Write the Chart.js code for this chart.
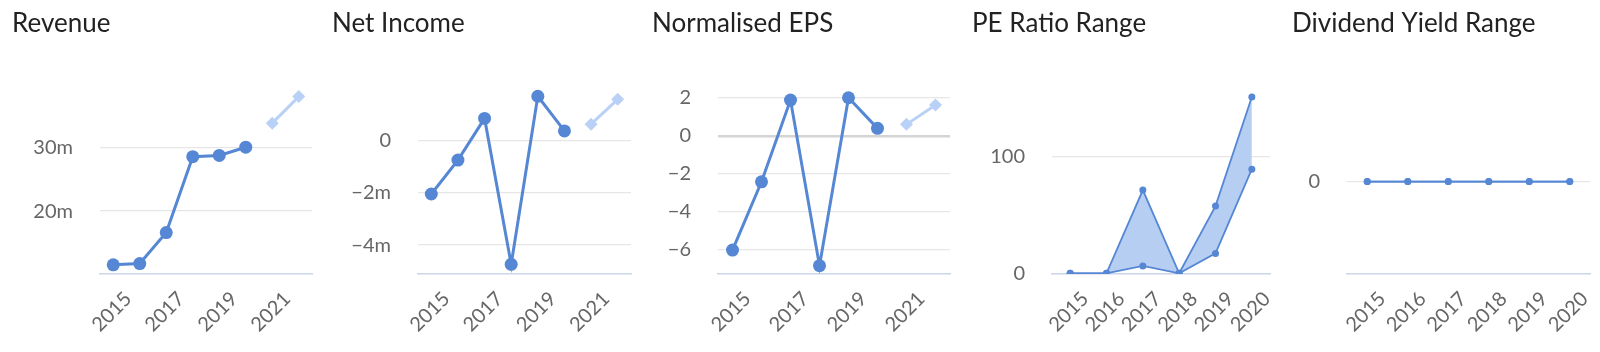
<!DOCTYPE html>
<html>
<head>
<meta charset="utf-8">
<script src="https://cdn.jsdelivr.net/npm/chart.js@4.4.1/dist/chart.umd.min.js"></script>
<style>
  body { margin: 0; background: #fff; }
  .row { display: flex; width: 1600px; height: 352px; }
  canvas { display: block; }
</style>
</head>
<body>
<div class="row">
  <canvas id="revenueChart" width="320" height="352"></canvas>
  <canvas id="incomeChart" width="320" height="352"></canvas>
  <canvas id="epsChart" width="320" height="352"></canvas>
  <canvas id="peChart" width="320" height="352"></canvas>
  <canvas id="divChart" width="320" height="352"></canvas>
</div>
<script>
// data (millions for revenue / net income)
var years = ['2015', '2016', '2017', '2018', '2019', '2020', '2021', '2022'];
var revenue = [11.5, 11.7, 16.6, 28.6, 28.8, 30.1, null, null];
var revenueForecast = [null, null, null, null, null, null, 33.9, 38.1];
var netIncome = [-2.04, -0.74, 0.86, -4.74, 1.71, 0.38, null, null];
var netIncomeForecast = [null, null, null, null, null, null, 0.64, 1.59];
var eps = [-6.0, -2.41, 1.89, -6.82, 2.01, 0.40, null, null];
var epsForecast = [null, null, null, null, null, null, 0.61, 1.63];

var rangeYears = ['2015', '2016', '2017', '2018', '2019', '2020'];
var peHigh = [0, 0, 71.4, 0, 57.7, 151.3];
var peLow = [0, 0, 6.3, 0, 17.1, 89.4];
var divHigh = [0, 0, 0, 0, 0, 0];
var divLow = [0, 0, 0, 0, 0, 0];

var BLUE = '#5587d4';
var LIGHT = '#b9d1f6';
var FILL = '#b7cef3';
var FONT = 'Lato';

function fmtM(v) {
  var s = Math.abs(v) + 'm';
  if (v === 0) return '0';
  return v < 0 ? '\u2212' + s : s;
}
function fmtN(v) {
  return v < 0 ? '\u2212' + Math.abs(v) : String(v);
}

function makeChart(id, opts) {
  var everyOther = opts.everyOther;
  new Chart(document.getElementById(id), {
    type: 'line',
    data: { labels: opts.labels, datasets: opts.datasets },
    options: {
      responsive: false,
      animation: false,
      layout: { padding: { left: 12, right: opts.right, top: 0, bottom: 0 } },
      plugins: {
        legend: { display: false },
        tooltip: { enabled: false },
        filler: { drawTime: 'beforeDatasetsDraw' },
        title: {
          display: true,
          text: opts.title,
          align: 'start',
          color: '#222',
          font: { family: FONT, size: 26, weight: 'normal' },
          padding: { top: 8, bottom: 50 }
        }
      },
      scales: {
        x: {
          type: 'category',
          offset: true,
          grid: { display: false, drawTicks: false },
          border: { display: true, color: '#ccd6eb', width: 1.5 },
          afterFit: function (scale) {
            scale.height = 78;
            // labels may overflow, keep the plot width fixed
            scale.paddingLeft = 0;
            scale.paddingRight = 0;
          },
          ticks: {
            autoSkip: false,
            minRotation: 45,
            maxRotation: 45,
            padding: 13,
            labelOffset: 15,
            color: '#666',
            font: { family: FONT, size: 20 },
            callback: function (val, i) {
              if (everyOther && i % 2 !== 0) return '';
              return this.getLabelForValue(val);
            }
          }
        },
        y: {
          min: opts.min,
          max: opts.max,
          afterBuildTicks: function (scale) {
            scale.ticks = opts.ticks.map(function (v) { return { value: v }; });
          },
          afterFit: function (scale) { scale.width = opts.axisWidth; },
          border: { display: false },
          grid: {
            drawTicks: false,
            color: function (ctx) {
              if (opts.zeroLine && ctx.tick && ctx.tick.value === 0) return '#d4d4d4';
              return '#e6e6e6';
            },
            lineWidth: function (ctx) {
              if (opts.zeroLine && ctx.tick && ctx.tick.value === 0) return 2.5;
              return 1.2;
            }
          },
          ticks: {
            padding: 27,
            color: '#666',
            font: { family: FONT, size: 20 },
            callback: opts.format
          }
        }
      }
    }
  });
}

function actualSet(values) {
  return {
    data: values,
    borderColor: BLUE,
    backgroundColor: BLUE,
    borderWidth: 3,
    pointRadius: 6.5,
    pointBorderWidth: 0,
    pointBackgroundColor: BLUE,
    spanGaps: false
  };
}
function forecastSet(values) {
  return {
    data: values,
    borderColor: LIGHT,
    backgroundColor: LIGHT,
    borderWidth: 3,
    pointStyle: 'rectRot',
    pointRadius: 6.5,
    pointBorderWidth: 0,
    pointBackgroundColor: LIGHT
  };
}
function rangeSets(high, low) {
  return [
    {
      data: high,
      borderColor: BLUE,
      backgroundColor: FILL,
      borderWidth: 1.8,
      pointRadius: 3.5,
      pointBorderWidth: 0,
      pointBackgroundColor: BLUE,
      fill: '+1'
    },
    {
      data: low,
      borderColor: BLUE,
      backgroundColor: FILL,
      borderWidth: 1.8,
      pointRadius: 3.5,
      pointBorderWidth: 0,
      pointBackgroundColor: BLUE,
      fill: false
    }
  ];
}

makeChart('revenueChart', {
  title: 'Revenue', labels: years, everyOther: true, right: 8,
  datasets: [actualSet(revenue), forecastSet(revenueForecast)],
  min: 10.05, max: 39.27, ticks: [20, 30], axisWidth: 88, format: fmtM
});

makeChart('incomeChart', {
  title: 'Net Income', labels: years, everyOther: true, right: 9,
  datasets: [actualSet(netIncome), forecastSet(netIncomeForecast)],
  min: -5.11, max: 1.98, ticks: [-4, -2, 0], axisWidth: 86, format: fmtM
});

makeChart('epsChart', {
  title: 'Normalised EPS', labels: years, everyOther: true, right: 10,
  datasets: [actualSet(eps), forecastSet(epsForecast)],
  min: -7.26, max: 2.46, ticks: [-6, -4, -2, 0, 2], axisWidth: 66, format: fmtN,
  zeroLine: true
});

makeChart('peChart', {
  title: 'PE Ratio Range', labels: rangeYears, everyOther: false, right: 10,
  datasets: rangeSets(peHigh, peLow),
  min: -0.6, max: 158, ticks: [0, 100], axisWidth: 80, format: fmtN
});

makeChart('divChart', {
  title: 'Dividend Yield Range', labels: rangeYears, everyOther: false, right: 10,
  datasets: rangeSets(divHigh, divLow),
  min: -1, max: 1, ticks: [0], axisWidth: 55, format: fmtN
});
</script>
</body>
</html>
